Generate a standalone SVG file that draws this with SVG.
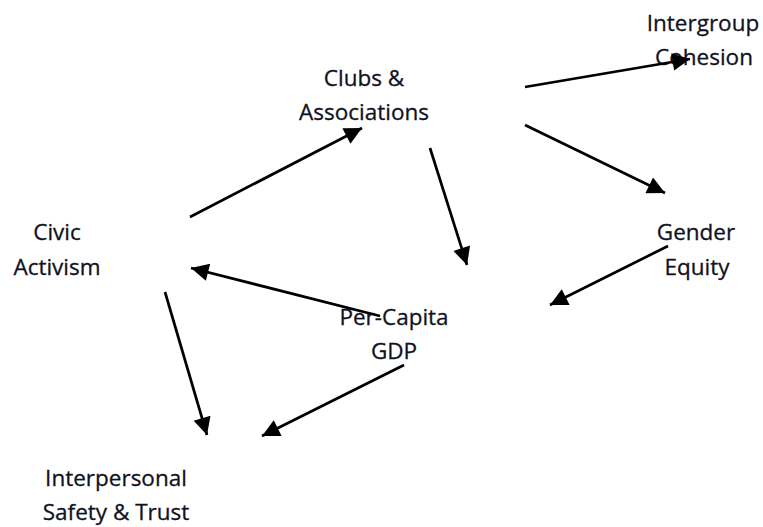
<svg xmlns="http://www.w3.org/2000/svg" width="763" height="527" viewBox="0 0 763 527">
<defs>
<marker id="ah" viewBox="0 0 10 10" refX="10" refY="5" markerWidth="7.5" markerHeight="6.5" markerUnits="strokeWidth" orient="auto">
<path d="M0,0 L10,5 L0,10 z" fill="#000"/>
</marker>
<style>
text{font-family:"Open Sans","Liberation Sans",sans-serif;font-size:22.5px;fill:#111122;stroke:#111122;stroke-width:0.3;text-anchor:middle}
.c line{stroke:#000;stroke-width:2.7;marker-end:url(#ah)}
</style>
</defs>
<rect width="763" height="527" fill="#fff"/>
<g id="intergroup"><text x="703" y="31">Intergroup</text><text x="704" y="65">Cohesion</text></g>
<g id="clubs"><text x="364" y="86">Clubs &amp;</text><text x="364" y="120">Associations</text></g>
<g id="civic"><text x="57" y="240">Civic</text><text x="57" y="275">Activism</text></g>
<g id="gender"><text x="696" y="240">Gender</text><text x="697" y="275">Equity</text></g>
<g id="gdp"><text x="394" y="325">Per-Capita</text><text x="394" y="359">GDP</text></g>
<g id="trust"><text x="116" y="486">Interpersonal</text><text x="116" y="520">Safety &amp; Trust</text></g>
<g class="c">
<line x1="525" y1="87" x2="690" y2="59"/>
<line x1="525" y1="125" x2="665" y2="193"/>
<line x1="430" y1="148" x2="467" y2="265"/>
<line x1="190" y1="217" x2="362" y2="128"/>
<line x1="380" y1="316" x2="191" y2="268"/>
<line x1="165" y1="292" x2="207" y2="435"/>
<line x1="404" y1="365" x2="262" y2="436"/>
<line x1="668" y1="246" x2="550" y2="305"/>
</g>
</svg>
